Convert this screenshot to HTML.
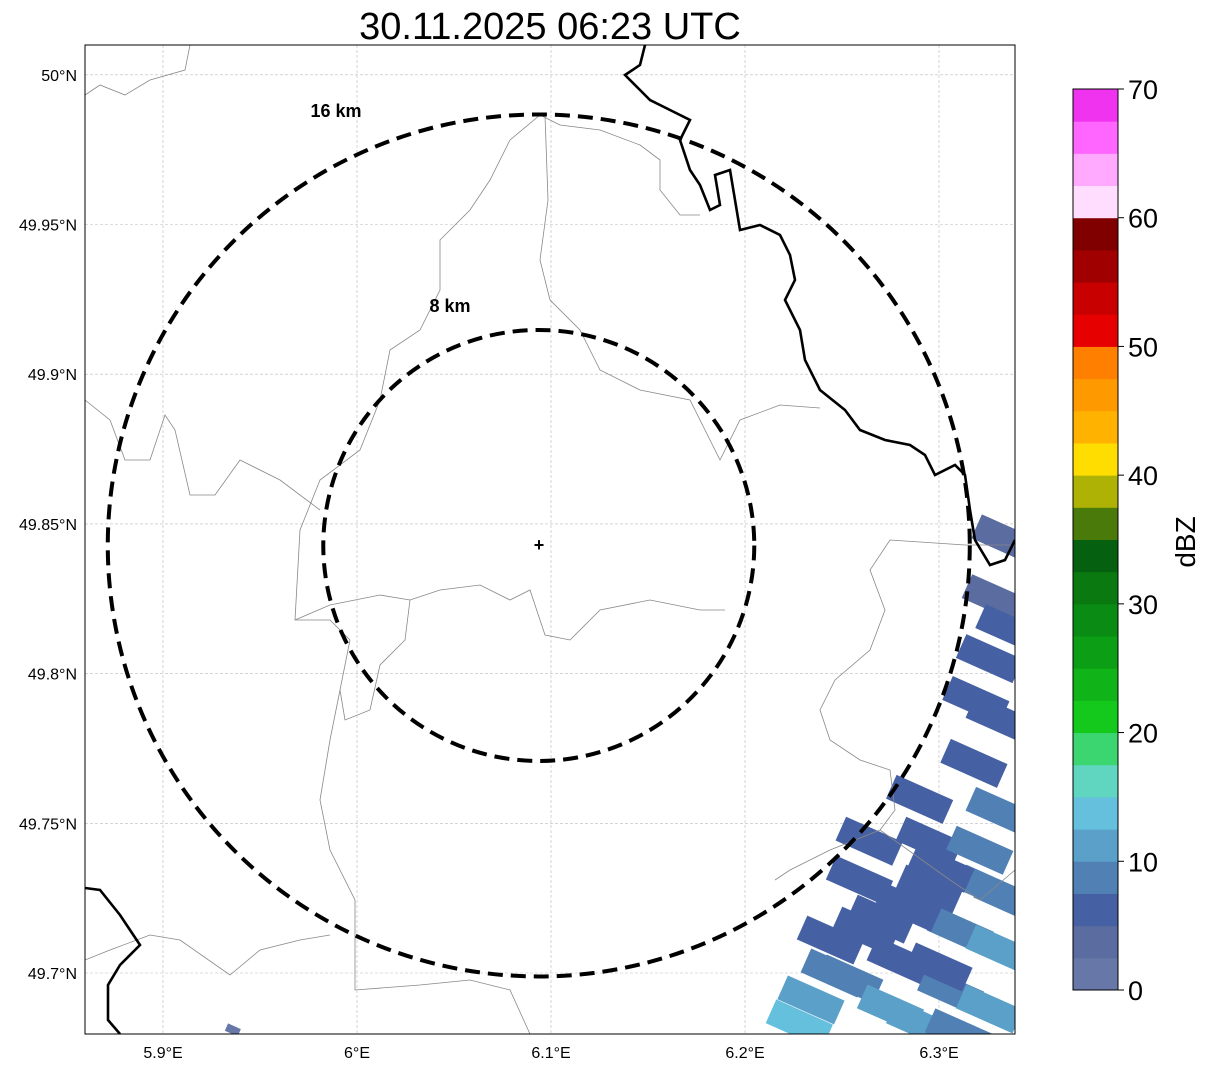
<!DOCTYPE html>
<html><head><meta charset="utf-8"><style>
body{margin:0;background:#fff;font-family:"Liberation Sans",sans-serif}
svg{display:block}
</style></head><body>
<svg id="chart" width="1207" height="1069" xmlns="http://www.w3.org/2000/svg">
<text x="550" y="39" font-size="38" text-anchor="middle">30.11.2025 06:23 UTC</text>
<defs><clipPath id="mapclip"><rect x="85" y="45" width="930" height="989"/></clipPath></defs>
<g id="map" clip-path="url(#mapclip)">
<g id="grid"></g>
<g id="echoes"></g>
<g fill="none" stroke="#888" stroke-width="0.8">
<path d="M85,95 L100,85 L125,95 L150,80 L185,70 L190,45"/>
<path d="M540,115 L510,140 L490,180 L470,210 L440,240 L440,290 L420,330 L390,350 L380,400 L360,450 L320,480 L300,530 L295,620 L330,620 L350,640 L340,690 L330,740 L320,800 L330,850 L355,900 L355,990 L420,985 L470,980 L510,990 L530,1034"/>
<path d="M540,115 L560,125 L600,130 L640,145 L660,160 L660,190 L680,215 L700,215"/>
<path d="M545,115 L548,200 L540,260 L550,300 L580,330 L600,370 L640,390 L690,400 L720,460 L740,420 L780,405 L820,408"/>
<path d="M85,400 L110,420 L125,460 L150,460 L165,415 L175,430 L190,495 L215,495 L240,460 L280,480 L320,510"/>
<path d="M295,620 L330,605 L380,595 L410,600 L440,590 L480,585 L510,600 L530,590 L545,635 L570,640 L600,610 L650,600 L700,610 L725,610"/>
<path d="M410,600 L405,640 L380,665 L370,710 L345,720 L340,690"/>
<path d="M1015,545 L965,545 L890,540 L870,570 L885,610 L870,650 L835,680 L820,710 L830,740 L860,760 L890,770 L895,810 L880,830 L830,850 L790,870 L775,880"/>
<path d="M85,960 L110,950 L150,935 L180,940 L230,975 L260,950 L300,940 L330,935"/>
<path d="M880,830 L950,880 L980,900 L1015,870"/>
</g>
<g fill="none" stroke="#000" stroke-width="2.6">
<path d="M645,45 L640,65 L625,75 L640,90 L650,100 L670,110 L690,120 L680,140 L690,170 L700,185 L710,210 L720,205 L715,175 L730,170 L735,200 L740,230 L760,225 L780,235 L790,255 L795,280 L785,300 L800,330 L805,360 L820,390 L845,410 L860,430 L885,440 L910,445 L925,455 L935,475 L955,465 L965,475 L970,510 L975,540 L990,565 L1005,560 L1015,540"/>
<path d="M85,888 L100,890 L120,915 L140,945 L120,965 L108,985 L108,1020 L120,1034"/>
</g>
<g fill="none" stroke="#000" stroke-width="4" stroke-dasharray="15,8" id="rings"></g>
<text x="539" y="551" font-size="18" font-weight="bold" text-anchor="middle">+</text>
<text x="336" y="117" font-size="18" font-weight="bold" text-anchor="middle">16 km</text>
<text x="450" y="312" font-size="18" font-weight="bold" text-anchor="middle">8 km</text>
</g>
<rect x="85" y="45" width="930" height="989" fill="none" stroke="#000" stroke-width="1"/>
<g id="ticks" font-size="16"></g>
<g id="cbar"></g>
<text transform="translate(1195,542) rotate(-90)" font-size="28" text-anchor="middle">dBZ</text>
</svg>
<script>
const lonTicks=[5.9,6.0,6.1,6.2,6.3];
const lonLabels=["5.9°E","6°E","6.1°E","6.2°E","6.3°E"];
const latTicks=[50.0,49.95,49.9,49.85,49.8,49.75,49.7];
const latLabels=["50°N","49.95°N","49.9°N","49.85°N","49.8°N","49.75°N","49.7°N"];
const ringKm=[8,16];
const cbTicks=[0,10,20,30,40,50,60,70];
const cbColors=["#6677a8","#5a6ca0","#4660a4","#5080b4","#5aa0c8","#64c0dc","#60d6c0","#3cd670","#14c81c","#10b418","#0c9e14","#0a8c14","#0a7a10","#056010","#4a7a0a","#adb205","#ffdd00","#ffb300","#ff9900","#ff8000","#e60000","#c80000","#a00000","#800000","#ffddff","#ffaaff","#ff66ff","#f033ee"];
// echo cells: lon, lat, dBZ
const cellLon=[6.334,6.329,6.326,6.319,6.331,6.290,6.331,6.264,6.295,6.321,6.259,6.295,6.326,6.270,6.311,6.244,6.331,6.280,6.254,6.306,6.234,6.275,6.326,6.228,6.290,5.936,6.336,6.318,6.301,6.284,6.262,6.246,6.300,6.335,6.310];
const cellLat=[49.845,49.825,49.805,49.791,49.785,49.758,49.754,49.744,49.744,49.741,49.731,49.728,49.728,49.718,49.714,49.711,49.708,49.704,49.698,49.694,49.691,49.688,49.688,49.683,49.683,49.681,49.815,49.770,49.735,49.722,49.714,49.700,49.702,49.725,49.680];
const cellDbz=[3,3,5,6,7,6,8,6,7,8,5,7,9,6,8,6,10,7,8,9,10,12,10,13,11,2,6,6,5,6,7,9,6,8,9];
const site=[6.0937,49.8428];
const NS="http://www.w3.org/2000/svg";
const X=lon=>163+(lon-5.9)*1940, Y=lat=>973-(lat-49.7)*2994;
const cbY=v=>990-v/70*901;
function mk(t,a,p){const e=document.createElementNS(NS,t);for(const k in a)e.setAttribute(k,a[k]);p.appendChild(e);return e;}
const grid=document.getElementById('grid'),ticks=document.getElementById('ticks');
lonTicks.forEach((v,i)=>{const l=mk('line',{x1:X(v),x2:X(v),y1:45,y2:1034,stroke:'#bbb','stroke-width':0.6,'stroke-dasharray':'3,2'},grid);

const t=mk('text',{x:X(v),y:1058,'text-anchor':'middle'},ticks);t.textContent=lonLabels[i];
});
latTicks.forEach((v,i)=>{const l=mk('line',{x1:85,x2:1015,y1:Y(v),y2:Y(v),stroke:'#bbb','stroke-width':0.6,'stroke-dasharray':'3,2'},grid);

const t=mk('text',{x:77,y:Y(v)+6,'text-anchor':'end'},ticks);t.textContent=latLabels[i];
});
const rings=document.getElementById('rings');const pxPerKm=215.5/8;
ringKm.forEach(k=>{const c=mk('ellipse',{cx:X(site[0]),cy:Y(site[1]),rx:k*pxPerKm,ry:k*pxPerKm},rings);
});
const ech=document.getElementById('echoes');
cellDbz.forEach((d,i)=>{const x=X(cellLon[i]),y=Y(cellLat[i]);const col=cbColors[Math.min(27,Math.floor(d/2.5))];
const w=i==25?14:62,h=i==25?8:26;
const r=mk('rect',{x:x-w/2,y:y-h/2,width:w,height:h,fill:col,transform:`rotate(24 ${x} ${y})`},ech);
});
const cb=document.getElementById('cbar');
cbColors.forEach((c,i)=>{const y1=cbY((i+1)*2.5),y0=cbY(i*2.5);const r=mk('rect',{x:1073,y:y1,width:45,height:y0-y1+0.5,fill:c},cb);
});
mk('rect',{x:1073,y:89,width:45,height:901,fill:'none',stroke:'#000','stroke-width':1},cb);
cbTicks.forEach(v=>{mk('line',{x1:1118,x2:1124,y1:cbY(v),y2:cbY(v),stroke:'#000'},cb);
const t=mk('text',{x:1128,y:cbY(v)+10,'font-size':27},cb);t.textContent=v;
});
</script>
</body></html>
